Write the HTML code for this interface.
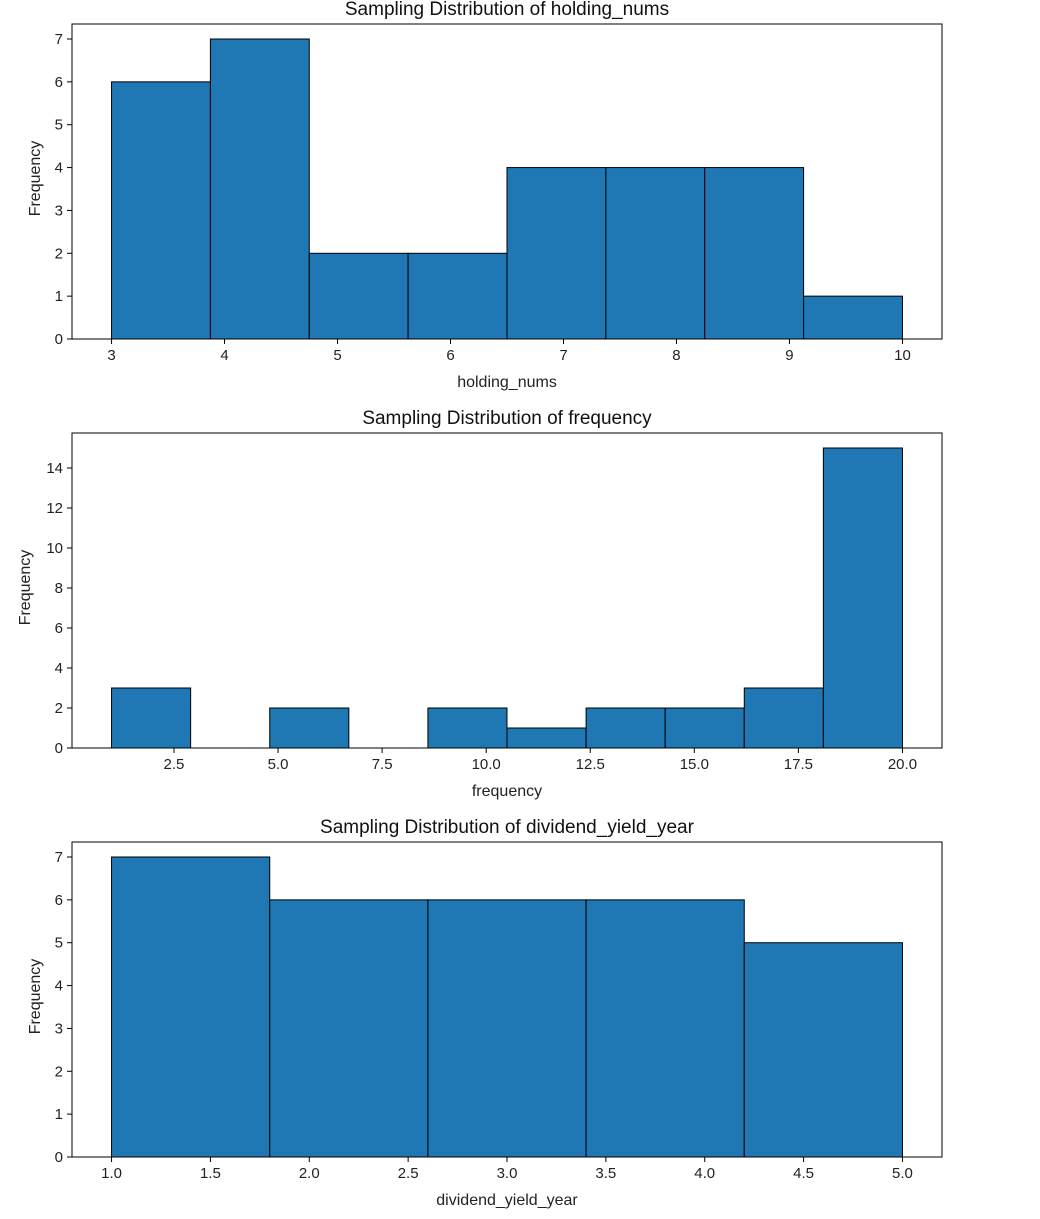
<!DOCTYPE html>
<html><head><meta charset="utf-8"><style>
body{margin:0;background:#fff;width:1040px;height:1214px;overflow:hidden}
svg{font-family:"Liberation Sans","DejaVu Sans",sans-serif}
</style></head><body>
<svg id="c" width="1040" height="1214"></svg>
<script>
const NS="http://www.w3.org/2000/svg";
const svg=document.getElementById('c');
// data
const holdingCounts=[6,7,2,2,4,4,4,1];
const holdingRange=[3,10];
const holdingXTicks=[3,4,5,6,7,8,9,10];
const holdingYTicks=[0,1,2,3,4,5,6,7];
const freqCounts=[3,0,2,0,2,1,2,2,3,15];
const freqRange=[1,20];
const freqXTicks=[2.5,5.0,7.5,10.0,12.5,15.0,17.5,20.0];
const freqYTicks=[0,2,4,6,8,10,12,14];
const divCounts=[7,6,6,6,5];
const divRange=[1,5];
const divXTicks=[1.0,1.5,2.0,2.5,3.0,3.5,4.0,4.5,5.0];
const divYTicks=[0,1,2,3,4,5,6,7];

function el(tag,attrs,parent){const e=document.createElementNS(NS,tag);for(const k in attrs)e.setAttribute(k,attrs[k]);(parent||svg).appendChild(e);return e;}
function txt(s,attrs,parent){const t=el('text',attrs,parent);t.textContent=s;return t;}

function hist(o){
  const g=el('g',{});
  
  
  const L=72,R=942,T=o.top,B=o.top+315;
  const [x0,x1]=o.range;
  const pad=(x1-x0)*0.05;
  const xs=v=>L+(v-(x0-pad))/((x1+pad)-(x0-pad))*(R-L);
  const ymax=Math.max(...o.counts)*1.05;
  const ys=v=>B-v/ymax*(B-T);
  const w=(x1-x0)/o.counts.length;
  o.counts.forEach((c,i)=>{
    const r=el('rect',{x:xs(x0+i*w),y:ys(c),width:xs(x0+(i+1)*w)-xs(x0+i*w),height:B-ys(c),fill:'#1f77b4',stroke:'#000','stroke-width':1},g);
    
    
  });
  const f=el('rect',{x:L,y:T,width:R-L,height:B-T,fill:'none',stroke:'#000','stroke-width':1},g);
  
  
  o.xticks.forEach(v=>{
    const x=xs(v);
    el('line',{x1:x,x2:x,y1:B,y2:B+5,stroke:'#000'},g);
    const t=txt(o.xfmt(v),{x:x,y:B+21,'text-anchor':'middle','font-size':15,fill:'#222'},g);
    
    
  });
  o.yticks.forEach(v=>{
    const y=ys(v);
    el('line',{x1:L-5,x2:L,y1:y,y2:y,stroke:'#000'},g);
    const t=txt(String(v),{x:L-9,y:y+5,'text-anchor':'end','font-size':15,fill:'#222'},g);
    
    
  });
  const xt=txt(o.xlabel,{x:(L+R)/2,y:B+48,'text-anchor':'middle','font-size':16,fill:'#222'},g);
  
  
  const yl=o.ylx;
  const yt=txt('Frequency',{x:yl,y:(T+B)/2-3,'text-anchor':'middle','font-size':16,fill:'#222',transform:`rotate(-90 ${yl} ${(T+B)/2-3})`},g);
  
  
  const tt=txt(o.title,{x:(L+R)/2,y:T-9,'text-anchor':'middle','font-size':19,fill:'#111'},g);
  
  
}
hist({name:'holding-nums-histogram',top:24,counts:holdingCounts,range:holdingRange,xticks:holdingXTicks,yticks:holdingYTicks,xfmt:v=>String(v),xlabel:'holding_nums',title:'Sampling Distribution of holding_nums',ylx:40});
hist({name:'frequency-histogram',top:433,counts:freqCounts,range:freqRange,xticks:freqXTicks,yticks:freqYTicks,xfmt:v=>v.toFixed(1),xlabel:'frequency',title:'Sampling Distribution of frequency',ylx:30});
hist({name:'dividend-yield-histogram',top:842,counts:divCounts,range:divRange,xticks:divXTicks,yticks:divYTicks,xfmt:v=>v.toFixed(1),xlabel:'dividend_yield_year',title:'Sampling Distribution of dividend_yield_year',ylx:40});
</script>
</body></html>
